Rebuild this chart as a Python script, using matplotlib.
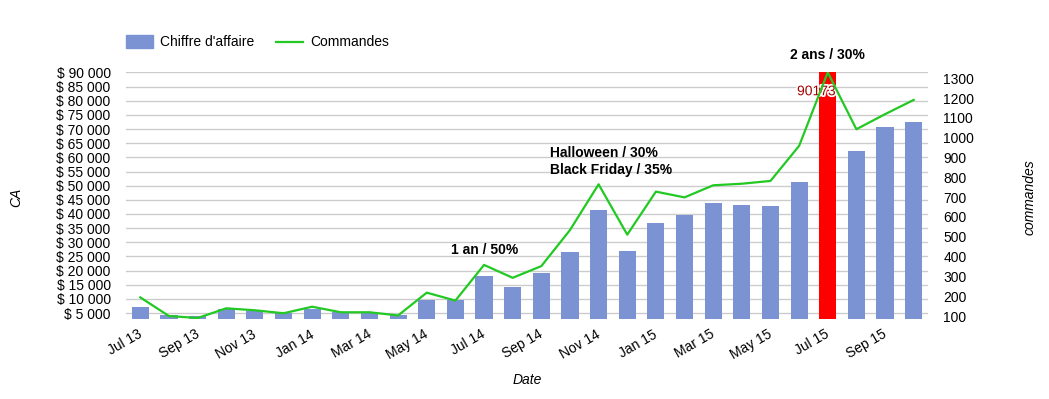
import matplotlib.pyplot as plt
import matplotlib.patheffects as pe
import matplotlib.transforms as mtransforms
import numpy as np

plt.rcParams['font.family'] = ['Liberation Sans', 'DejaVu Sans']

months = ["Jul 13", "Aug 13", "Sep 13", "Oct 13", "Nov 13", "Dec 13",
          "Jan 14", "Feb 14", "Mar 14", "Apr 14", "May 14", "Jun 14",
          "Jul 14", "Aug 14", "Sep 14", "Oct 14", "Nov 14", "Dec 14",
          "Jan 15", "Feb 15", "Mar 15", "Apr 15", "May 15", "Jun 15",
          "Jul 15", "Aug 15", "Sep 15", "Oct 15"]
ca = [7100, 4300, 3800, 6300, 5800, 4900,
      6400, 5200, 5200, 4300, 9600, 9600,
      18050, 14270, 19100, 26500, 41300, 26860,
      36730, 39550, 43800, 43080, 42730, 51190,
      90173, 62120, 70580, 72340]
commandes = [194, 100, 90, 139, 129, 114,
             147, 119, 119, 103, 218, 178,
             358, 293, 352, 534, 765, 511,
             728, 699, 760, 768, 782, 959,
             1330, 1043, 1119, 1191]
highlight = "Jul 15"
# (text, x position in bar units, y in CA units, alignment)
annotations = [("1 an / 50%", 10.85, 24800, 'left'),
               ("Halloween / 30%\nBlack Friday / 35%", 14.3, 53200, 'left'),
               ("2 ans / 30%", 24.0, 93700, 'center')]

x = np.arange(len(months))
colors = ['#ff0000' if m == highlight else '#7b93d3' for m in months]

fig = plt.figure(figsize=(10.49, 3.99), dpi=100)
ax = fig.add_axes([126 / 1049, 1 - 319 / 399, (928 - 126) / 1049, (319 - 72) / 399])
ax2 = ax.twinx()

ax.bar(x, ca, width=0.6, color=colors, zorder=2)
ax2.plot(x, commandes, color='#22c922', lw=1.6, zorder=3)

ax.set_xlim(-0.5, len(months) - 0.5)
ax.set_ylim(2880, 90173)
ax2.set_ylim(85, 1332)

yt = np.arange(5000, 90001, 5000)
ax.set_yticks(yt)
ax.set_yticklabels(["$ {:,}".format(v).replace(",", " ") for v in yt], fontsize=10)
ax.yaxis.grid(True, color='#cccccc', lw=1, zorder=0)
ax.set_axisbelow(True)
ax2.set_yticks(np.arange(100, 1301, 100))
ax2.tick_params(axis='y', labelsize=10, length=0, pad=11)
ax.tick_params(axis='y', length=0, pad=11)

ax.set_xticks(x[::2])
ax.set_xticklabels(months[::2], rotation=30, ha='right', rotation_mode='anchor', fontsize=10)
ax.tick_params(axis='x', length=0, pad=6)
shift = mtransforms.ScaledTranslation(-3 / 100, 0, fig.dpi_scale_trans)
for lab in ax.get_xticklabels():
    lab.set_transform(lab.get_transform() + shift)

for a in (ax, ax2):
    for s in a.spines.values():
        s.set_visible(False)

fig.text(16 / 1049, 1 - 197 / 399, "CA", style='italic', fontsize=10,
         rotation=90, ha='center', va='center')
fig.text(1030 / 1049, 1 - 197 / 399, "commandes", style='italic', fontsize=10,
         rotation=90, ha='center', va='center')
fig.text(527 / 1049, 1 - 380 / 399, "Date", style='italic', fontsize=10,
         ha='center', va='center')

hi = months.index(highlight)
ax.text(hi - 0.4, ca[hi] - 6800, str(ca[hi]), color='#a50000', fontsize=10,
        ha='center', va='center', zorder=5,
        path_effects=[pe.withStroke(linewidth=2.5, foreground='white')])

for txt, xo, yv, ha in annotations:
    ax.text(xo, yv, txt, fontsize=10, fontweight='bold', ha=ha, va='bottom',
            linespacing=1.25, clip_on=False)

# legend
fig.patches.append(plt.Rectangle((126 / 1049, 1 - 48 / 399), 27 / 1049, 13 / 399,
                                 transform=fig.transFigure, color='#7b93d3'))
fig.text(160 / 1049, 1 - 42 / 399, "Chiffre d'affaire", fontsize=10, va='center')
fig.lines.append(plt.Line2D([276 / 1049, 303 / 1049], [1 - 42 / 399, 1 - 42 / 399],
                            transform=fig.transFigure, color='#22c922', lw=1.6))
fig.text(310 / 1049, 1 - 42 / 399, "Commandes", fontsize=10, va='center')

fig.savefig("out.png", dpi=100)
